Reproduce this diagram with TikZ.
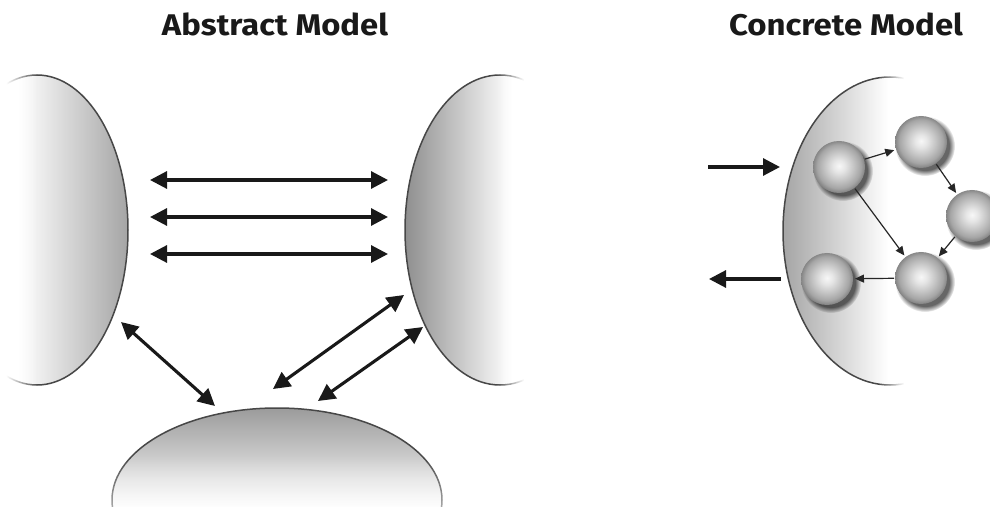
\documentclass[tikz,border=0pt]{standalone}
\usepackage{fontspec}
\setmainfont{Fira Sans}
\usetikzlibrary{arrows.meta,fadings}

% fadings for the soft open sides of the shapes
\tikzfading[name=opaqueLeft, left color=transparent!0, right color=transparent!100]
\tikzfading[name=opaqueRight, left color=transparent!100, right color=transparent!0]
\tikzfading[name=opaqueBottom, top color=transparent!100, bottom color=transparent!0]

% shading of the small spheres
\pgfdeclareradialshading{sphere}{\pgfpoint{0bp}{1bp}}{%
  color(0bp)=(black!3); color(6bp)=(black!10); color(14bp)=(black!23);
  color(21bp)=(black!35); color(25bp)=(black!48); color(50bp)=(black!48)}

\newcommand{\titletext}[2]{\resizebox{#1}{\height}{\fontsize{30}{30}\selectfont\bfseries #2}}

\begin{document}
\begin{tikzpicture}[x=1bp,y=-1bp,
  rim/.style={draw=black!72, line width=1.5bp},
  title/.style={anchor=base, inner sep=0pt, text=black!90},
  bigarrow/.style={line width=3.1bp, black!90,
    {Triangle[length=17bp,width=17bp]}-{Triangle[length=17bp,width=17bp]}},
  onearrow/.style={line width=3.1bp, black!90, -{Triangle[length=17bp,width=17bp]}},
  smallarrow/.style={line width=1.2bp, black!85, -{Triangle[length=9bp,width=8bp]},
    shorten <=1bp, shorten >=2bp},
  ball/.style={circle, minimum size=52bp, inner sep=0pt, outer sep=0pt, shading=sphere},
  ballshadow/.style={fill=black, opacity=0.6, path fading=circle with fuzzy edge 20 percent}
]
\useasboundingbox (0,0) rectangle (990,507);

% ---------- titles ----------
\node[title] (tA) at (275,36) {\titletext{226bp}{Abstract Model}};
\node[title] (tC) at (846,36) {\titletext{234bp}{Concrete Model}};

% ---------- abstract model: left shape ----------
\begin{scope}
  \clip (37,230) ellipse [x radius=91, y radius=155];
  \shade[left color=white, right color=black!36] (18,60) rectangle (130,400);
\end{scope}
\path[rim] (37,230) ellipse [x radius=91, y radius=155];
\fill[white] (-60,60) rectangle (6,400);
\fill[white, path fading=opaqueLeft] (6,60) rectangle (38,400);

% ---------- abstract model: right shape ----------
\begin{scope}
  \clip (500,230) ellipse [x radius=95, y radius=155];
  \shade[left color=black!45, right color=white] (403,60) rectangle (512,400);
\end{scope}
\path[rim] (500,230) ellipse [x radius=95, y radius=155];
\fill[white, path fading=opaqueRight] (496,60) rectangle (524,400);
\fill[white] (524,60) rectangle (620,400);

% ---------- abstract model: bottom shape ----------
\begin{scope}
  \clip (277,500) ellipse [x radius=165, y radius=92];
  \shade[top color=black!40, bottom color=white] (100,406) rectangle (460,510);
\end{scope}
\path[rim] (277,500) ellipse [x radius=165, y radius=92];
\fill[white, opacity=0.55, path fading=opaqueBottom] (100,455) rectangle (460,510);

% ---------- abstract model: connectors ----------
\coordinate (h1l) at (150,180); \coordinate (h1r) at (388,180);
\coordinate (h2l) at (150,217); \coordinate (h2r) at (388,217);
\coordinate (h3l) at (150,254); \coordinate (h3r) at (388,254);
\coordinate (d1a) at (121,322); \coordinate (d1b) at (215,406);
\coordinate (d2a) at (404,295); \coordinate (d2b) at (273,389);
\coordinate (d3a) at (423,327); \coordinate (d3b) at (318,401);
\draw[bigarrow] (h1l) -- (h1r);
\draw[bigarrow] (h2l) -- (h2r);
\draw[bigarrow] (h3l) -- (h3r);
\draw[bigarrow] (d1a) -- (d1b);
\draw[bigarrow] (d2a) -- (d2b);
\draw[bigarrow] (d3a) -- (d3b);

% ---------- concrete model: shape ----------
\begin{scope}
  \clip (890,231) ellipse [x radius=107, y radius=154];
  \shade[left color=black!36, right color=white] (781,60) rectangle (888,400);
\end{scope}
\path[rim] (890,231) ellipse [x radius=107, y radius=154];
\fill[white, path fading=opaqueRight] (878,60) rectangle (904,400);
\fill[white] (904,60) rectangle (1010,400);

% ---------- concrete model: spheres ----------
\foreach \x/\y in {839/167, 921/142, 972/216, 921/278, 827/279}
  \fill[ballshadow] (\x+4,\y+4) circle (30);
\node[ball] (s1) at (839,167) {};
\node[ball] (s2) at (921,142) {};
\node[ball] (s3) at (972,216) {};
\node[ball] (s4) at (921,278) {};
\node[ball] (s5) at (827,279) {};

\draw[smallarrow] (s1) -- (s2);
\draw[smallarrow] (s2) -- (s3);
\draw[smallarrow] (s3) -- (s4);
\draw[smallarrow] (s1) -- (s4);
\draw[smallarrow] (s4) -- (s5);

% ---------- concrete model: input and output ----------
\coordinate (inA) at (708,167); \coordinate (inB) at (780,167);
\coordinate (outA) at (781,279); \coordinate (outB) at (709,279);
\draw[onearrow] (inA) -- (inB);
\draw[onearrow] (outA) -- (outB);
\end{tikzpicture}
\end{document}
